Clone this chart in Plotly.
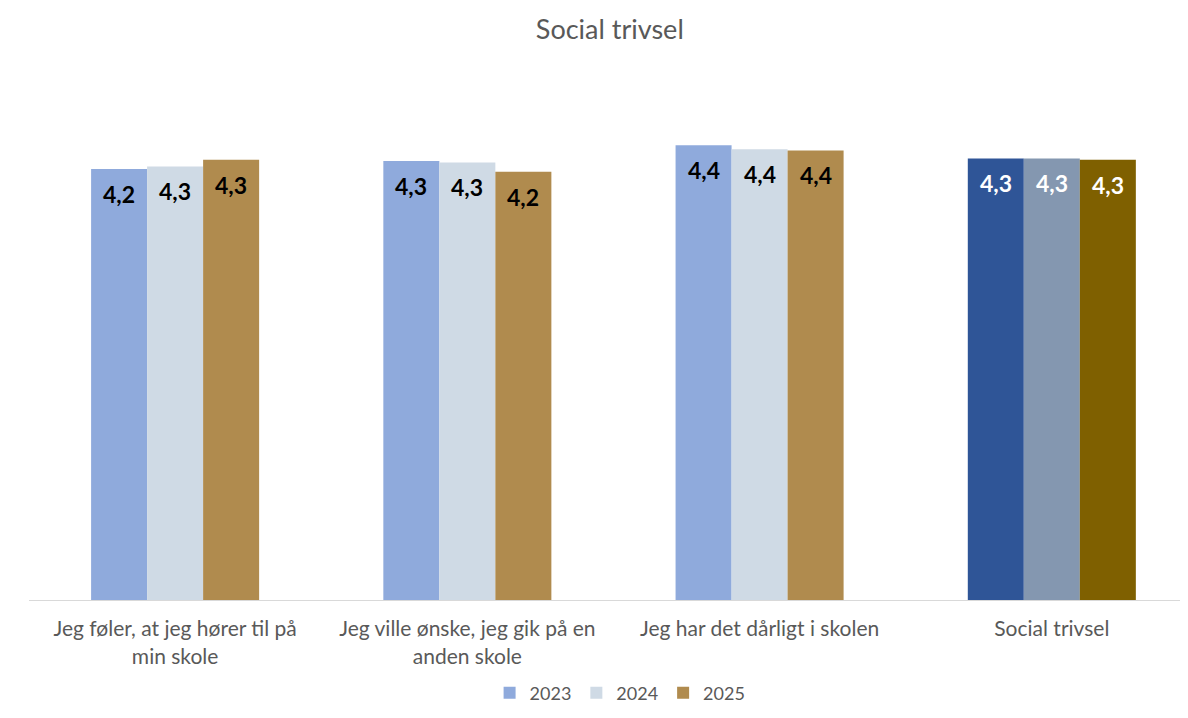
import plotly.graph_objects as go

categories = [
    "Jeg føler, at jeg hører til på<br>min skole",
    "Jeg ville ønske, jeg gik på en<br>anden skole",
    "Jeg har det dårligt i skolen",
    "Social trivsel",
]
years = ["2023", "2024", "2025"]
v2023 = [4.24, 4.30, 4.42, 4.32]
v2024 = [4.26, 4.29, 4.39, 4.32]
v2025 = [4.31, 4.22, 4.38, 4.31]
series = [v2023, v2024, v2025]

base_colors = ["#8FAADC", "#CFDAE5", "#B08B4E"]
total_colors = ["#2F5597", "#8497B0", "#7F6000"]
label_color_base = "#000000"
label_color_total = "#FFFFFF"

FONT = "Lato"
W, H = 1180, 710
ML, MR, MT, MB = 21, 0, 60, 118
XR = [-0.5, 3.466]
BARGAP = 0.425

fig = go.Figure()
for i, (yr, vals) in enumerate(zip(years, series)):
    colors = [base_colors[i]] * (len(categories) - 1) + [total_colors[i]]
    fig.add_trace(go.Bar(
        name=yr, x=categories, y=vals,
        marker=dict(color=colors, line=dict(width=0)),
        hovertemplate="%{y:.2f}<extra>" + yr + "</extra>",
    ))

# data labels, placed at each bar's value via axis coordinates
px_per_cat = (W - ML - MR) / (XR[1] - XR[0])
bar_px = px_per_cat * (1 - BARGAP) / len(years)
for i, vals in enumerate(series):
    for j, (cat, v) in enumerate(zip(categories, vals)):
        col = label_color_total if j == len(categories) - 1 else label_color_base
        fig.add_annotation(
            x=cat, y=v, xref="x", yref="y",
            text=f"{v:.1f}".replace(".", ","),
            showarrow=False, xanchor="center", yanchor="middle",
            xshift=(i - (len(years) - 1) / 2) * bar_px, yshift=-25,
            font=dict(family=FONT, size=23, color=col, weight="bold"),
        )

fig.update_layout(
    width=W, height=H,
    barmode="group", bargap=BARGAP, bargroupgap=0,
    separators=",.",
    plot_bgcolor="white", paper_bgcolor="white",
    margin=dict(l=ML, r=MR, t=MT, b=MB),
    title=dict(text="Social trivsel", x=0.51, xanchor="center", y=0.969, yanchor="middle",
               font=dict(family=FONT, size=27, color="#595959")),
    font=dict(family=FONT, color="#595959"),
    xaxis=dict(range=XR, showline=True, linecolor="#D9D9D9", linewidth=1,
               ticks="outside", ticklen=10, tickcolor="rgba(0,0,0,0)",
               tickfont=dict(family=FONT, size=21, color="#595959")),
    yaxis=dict(range=[1, 5], visible=False, showgrid=False),
    legend=dict(orientation="h", x=0.51, xanchor="center", y=-0.175, yanchor="middle",
                font=dict(family=FONT, size=18, color="#595959"), traceorder="normal"),
    showlegend=True,
)
fig.write_html("out.html")
